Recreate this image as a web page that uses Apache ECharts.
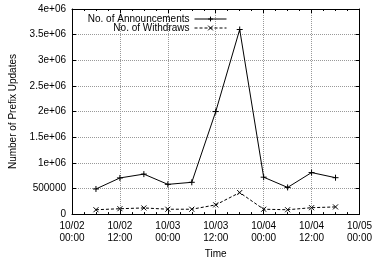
<!DOCTYPE html>
<html>
<head>
<meta charset="utf-8">
<script src="https://cdn.jsdelivr.net/npm/echarts@6/dist/echarts.min.js"></script>
<style>html,body{margin:0;padding:0;background:#fff}#c{width:375px;height:264px}</style>
</head>
<body>
<div id="c"></div>
<script>
var times = ['10/02 06:00','10/02 12:00','10/02 18:00','10/03 00:00','10/03 06:00','10/03 12:00','10/03 18:00','10/04 00:00','10/04 06:00','10/04 12:00','10/04 18:00'];
var announcements = [490000, 705000, 780000, 580000, 620000, 2000000, 3600000, 720000, 520000, 810000, 710000];
var withdraws = [85000, 105000, 120000, 95000, 95000, 180000, 420000, 95000, 85000, 125000, 140000];
var xTickLabels = ['10/02\n00:00','10/02\n12:00','10/03\n00:00','10/03\n12:00','10/04\n00:00','10/04\n12:00','10/05\n00:00'];
var yTickLabels = ['0','500000','1e+06','1.5e+06','2e+06','2.5e+06','3e+06','3.5e+06','4e+06'];
var seriesNames = ['No. of Announcements','No. of Withdraws'];

function toHours(s){
  var p = s.split(' '); var d = p[0].split('/'); var t = p[1].split(':');
  return (parseInt(d[1],10)-2)*24 + parseInt(t[0],10) + parseInt(t[1],10)/60;
}
function pairs(vals){ return times.map(function(t,i){ return [toHours(t), vals[i]]; }); }

var font = 'Liberation Sans, Arial, sans-serif';
var chart = echarts.init(document.getElementById('c'), null, {renderer:'canvas'});
var plusPath = 'path://M0,5L10,5M5,0L5,10';
var crossPath = 'path://M0,0L10,10M10,0L0,10';
var axisLine = {show:true, onZero:false, lineStyle:{color:'#000', width:1}};
function legendCfg(name, top){
  return {data:[name], right:148, top:top, orient:'vertical', align:'right', itemWidth:32, itemHeight:6, itemGap:2, padding:0,
    lineStyle:{width:1}, itemStyle:{color:'#000', borderColor:'#000', borderWidth:1},
    textStyle:{fontFamily:font, fontSize:10, color:'#000'}};
}
chart.setOption({
  animation:false,
  textStyle:{fontFamily:font},
  grid:{left:72, right:10, top:9, bottom:42, containLabel:false},
  legend:[legendCfg(seriesNames[0], 14), legendCfg(seriesNames[1], 23)],
  xAxis:[
    {type:'value', min:0, max:72, interval:12, position:'bottom',
     name:'Time', nameLocation:'middle', nameGap:30, nameTextStyle:{fontFamily:font, fontSize:10, color:'#000'},
     axisLine:axisLine,
     axisTick:{show:true, inside:true, length:4, lineStyle:{color:'#000'}},
     minorTick:{show:true, splitNumber:4, length:2, lineStyle:{color:'#000'}},
     axisLabel:{margin:6, fontFamily:font, fontSize:10, color:'#000', lineHeight:12,
       formatter:function(v){ var i=Math.round(v/12); return xTickLabels[i]||''; }},
     splitLine:{show:true, lineStyle:{color:'#999', type:[1,1], width:1}}},
    {type:'value', min:0, max:72, interval:12, position:'top',
     axisLine:axisLine,
     axisTick:{show:true, inside:true, length:4, lineStyle:{color:'#000'}},
     minorTick:{show:true, splitNumber:4, length:2, lineStyle:{color:'#000'}},
     axisLabel:{show:false}, splitLine:{show:false}}
  ],
  yAxis:[
    {type:'value', min:0, max:4000000, interval:500000, position:'left',
     name:'Number of Prefix Updates', nameLocation:'middle', nameGap:54, nameRotate:90,
     nameTextStyle:{fontFamily:font, fontSize:10, color:'#000'},
     axisLine:axisLine,
     axisTick:{show:true, inside:true, length:4, lineStyle:{color:'#000'}},
     axisLabel:{margin:6, fontFamily:font, fontSize:10, color:'#000',
       formatter:function(v){ var i=Math.round(v/500000); return yTickLabels[i]||''; }},
     splitLine:{show:true, lineStyle:{color:'#999', type:[1,1], width:1}}},
    {type:'value', min:0, max:4000000, interval:500000, position:'right',
     axisLine:axisLine,
     axisTick:{show:true, inside:true, length:4, lineStyle:{color:'#000'}},
     axisLabel:{show:false}, splitLine:{show:false}}
  ],
  series:[
    {name:seriesNames[0], type:'line', data:pairs(announcements), xAxisIndex:0, yAxisIndex:0,
     symbol:plusPath, symbolSize:6, showSymbol:true,
     lineStyle:{color:'#000', width:1},
     itemStyle:{color:'#000', borderColor:'#000', borderWidth:1}},
    {name:seriesNames[1], type:'line', data:pairs(withdraws), xAxisIndex:0, yAxisIndex:0,
     symbol:crossPath, symbolSize:5, showSymbol:true,
     lineStyle:{color:'#000', width:1, type:[3,2]},
     itemStyle:{color:'#000', borderColor:'#000', borderWidth:1}}
  ]
});
</script>
</body>
</html>
